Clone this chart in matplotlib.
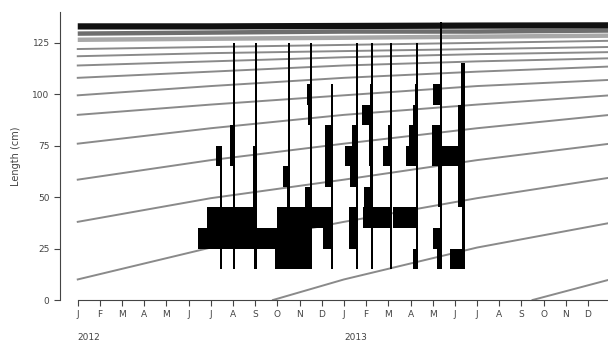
import numpy as np
from matplotlib import pyplot as plt

# months counted from Jan 2012
month_labels = ["J", "F", "M", "A", "M", "J", "J", "A", "S", "O", "N", "D"] * 2
years = ["2012", "2013"]

# growth curves (length in cm read at months 0, 6, 12, 18, 24)
curve_months = [0, 6, 12, 18, 24]
curves = [
    [10, 25.5, 38, 49.5, 59.5],
    [38, 49.5, 58.5, 68, 76],
    [58.5, 68, 76, 83.5, 90],
    [76, 83.5, 90, 95, 99.5],
    [90, 95, 99.5, 104, 107],
    [99.5, 104, 108, 111, 113.5],
    [108, 111, 114, 116, 117.5],
    [114, 116, 118, 119.5, 120.5],
    [118.5, 120, 121, 122, 123],
    [122, 123, 124, 125, 126],
]
band_curves = [
    [126.5, 127, 127.5, 128, 128.5],
    [129.5, 130, 130.5, 130.5, 131],
    [133, 133, 133.2, 133.4, 133.5],
]
# cohorts recruited inside the period
young_months = [[8.8, 12, 18, 24], [20.5, 24]]
young_lengths = [[0, 10, 25.5, 37.5], [0, 10]]

# length-frequency samples: date (month) and bar scores per 10 cm class
bins = [15, 25, 35, 45, 55, 65, 75, 85, 95, 105, 115, 125]
sample_dates = [6.50, 7.09, 8.08, 9.57, 10.56, 11.51, 12.63, 13.31, 14.16, 15.34, 16.42, 17.45]
scores = [
    [2, 24, 15, 2, 2, 6, 0, 0, 0, 0, 0, 0],
    [2, 13, 13, 2, 2, 5, 5, 2, 2, 2, 2, 0],
    [3, 22, 22, 4, 4, 4, 2, 2, 2, 2, 2, 0],
    [15, 33, 13, 3, 7, 2, 2, 2, 2, 2, 2, 0],
    [22, 22, 22, 7, 2, 2, 2, 4, 5, 2, 2, 0],
    [2, 10, 21, 2, 8, 8, 8, 2, 2, 0, 0, 0],
    [2, 9, 9, 2, 8, 13, 6, 2, 2, 2, 2, 0],
    [2, 2, 10, 9, 3, 4, 4, 11, 3, 2, 2, 0],
    [2, 2, 20, 2, 2, 9, 4, 2, 2, 2, 2, 0],
    [5, 2, 25, 2, 2, 12, 9, 5, 3, 2, 2, 0],
    [5, 9, 2, 4, 4, 10, 10, 2, 9, 2, 2, 2],
    [15, 3, 3, 7, 7, 25, 7, 7, 4, 4, 0, 0],
]


def main():
    fig = plt.figure(figsize=(6.08, 3.5), dpi=100)
    ax = fig.add_axes([60 / 608, 50 / 350, 548 / 608, 288 / 350])
    ax.set_xlim(-0.8, 23.9)
    ax.set_ylim(0, 140)

    for c in curves:
        ax.plot(curve_months, c, color="#8a8a8a", lw=1.4, zorder=1)
    for c, col, lw in zip(band_curves, ["#a8a8a8", "#6e6e6e", "#111111"], [3.2, 3.2, 4.5]):
        ax.plot(curve_months, c, color=col, lw=lw, zorder=1, solid_capstyle="butt")
    for m, l in zip(young_months, young_lengths):
        ax.plot(m, l, color="#8a8a8a", lw=1.4, zorder=1)

    sc = 1 / 22.2
    for d, s in zip(sample_dates, scores):
        for b, v in zip(bins, s):
            if v > 0:
                ax.bar(d - v * sc, 10, width=v * sc, bottom=b, align="edge",
                       color="black", lw=0, zorder=3)

    ax.spines["top"].set_visible(False)
    ax.spines["right"].set_visible(False)
    ax.spines["left"].set_color("#444444")
    ax.spines["bottom"].set_color("#444444")
    ax.spines["bottom"].set_bounds(0, 23.9)

    ax.set_yticks([0, 25, 50, 75, 100, 125])
    ax.set_xticks(np.arange(24))
    ax.set_xticklabels(month_labels)
    ax.tick_params(axis="both", labelsize=6.5, colors="#444444", length=4, width=0.8)
    ax.tick_params(axis="x", pad=3)
    ax.set_ylabel("Length (cm)", fontsize=7, color="#444444", labelpad=8)

    for i, yr in enumerate(years):
        ax.text(i * 12, -0.13, yr, transform=ax.get_xaxis_transform(),
                fontsize=6.5, color="#444444", ha="left", va="center")

    plt.savefig("out.png", dpi=100)


if __name__ == "__main__":
    main()
